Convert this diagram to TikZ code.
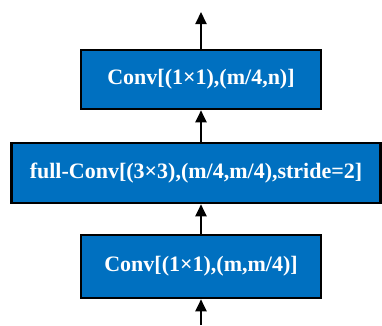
\documentclass[tikz,border=0pt]{standalone}
\usepackage{fontspec}
\setmainfont{Liberation Serif}
\usetikzlibrary{arrows.meta}
\definecolor{boxblue}{HTML}{0070C0}
\begin{document}
\begin{tikzpicture}[x=1pt,y=1pt,
  layerbox/.style={draw=black,line width=2.6pt,fill=boxblue,text=white,
    font=\fontsize{22}{24}\selectfont\bfseries,inner sep=0pt,anchor=center},
  flow/.style={line width=2pt,-{Triangle[length=12pt,width=11pt]}}]
\useasboundingbox (0,0) rectangle (382,325);
\node[layerbox,minimum width=240pt,minimum height=59pt] (top) at (201,245.5) {Conv[(1×1),(m/4,n)]};
\node[layerbox,minimum width=369pt,minimum height=60pt] (mid) at (196,152) {full-Conv[(3×3),(m/4,m/4),stride=2]};
\node[layerbox,minimum width=240pt,minimum height=63pt] (bot) at (201,58.5) {Conv[(1×1),(m,m/4)]};
\coordinate (out) at (201,313);
\coordinate (in) at (201,0);
\draw[flow] (in) -- (bot.south);
\draw[flow] (bot.north) -- (bot.north |- mid.south);
\draw[flow] (top.south |- mid.north) -- (top.south);
\draw[flow] (top.north) -- (out);
\end{tikzpicture}
\end{document}
